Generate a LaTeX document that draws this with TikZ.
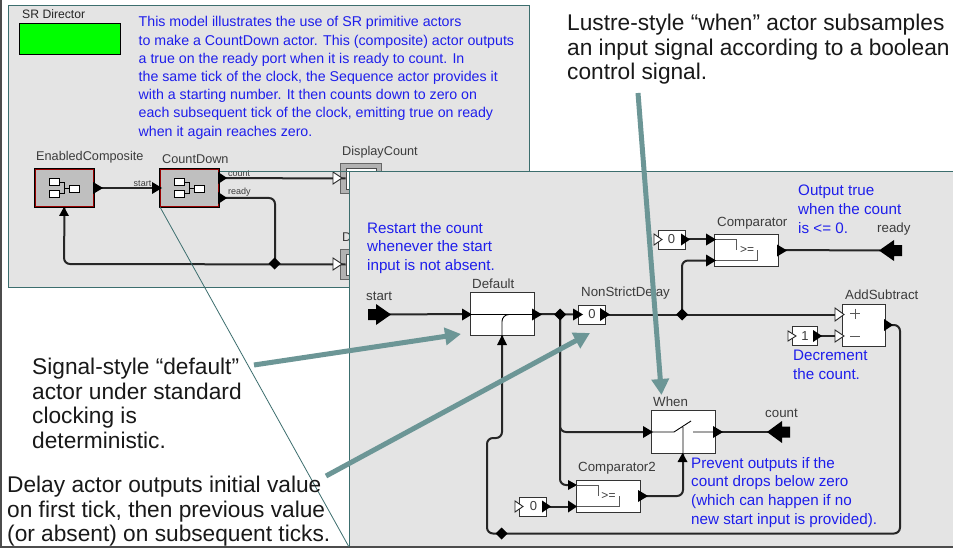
\documentclass[tikz,border=0pt]{standalone}
\usepackage{fontspec}
\setmainfont{Liberation Sans}
\usetikzlibrary{arrows.meta}
\definecolor{panel}{RGB}{228,228,228}
\definecolor{frameg}{RGB}{60,110,110}
\definecolor{bluet}{RGB}{30,30,235}
\definecolor{grayt}{RGB}{60,60,60}
\definecolor{callout}{RGB}{108,150,150}
\tikzset{
 wire/.style={line width=2pt,black!85,rounded corners=6pt},
 block/.style={draw=black!80,fill=white,line width=.9pt,inner sep=0pt},
 note/.style={text=bluet,font=\fontsize{15.2}{18.7}\selectfont,align=left,anchor=north west,inner sep=0pt},
 lbl/.style={text=grayt,font=\fontsize{13.3}{15}\selectfont,inner sep=0pt},
 big/.style={text=black!90,font=\fontsize{22.7}{24.5}\selectfont,align=left,anchor=north west,inner sep=0pt},
 callarr/.style={line width=5pt,callout,-{Triangle[length=16pt,width=17pt]}},
 fout/.style={fill=white,draw=black!85,line width=.9pt},
 sm/.style={text=grayt,font=\fontsize{9}{10}\selectfont,inner sep=0pt},
 val/.style={text=grayt,font=\fontsize{13}{13}\selectfont,inner sep=0pt},
 cmpsym/.style={text=grayt,font=\fontsize{12}{12}\selectfont,inner sep=0pt},
 actor/.style={draw=black,fill=black!25,minimum width=60pt,minimum height=39pt,line width=1pt,inner sep=0pt},
 disp/.style={draw=black!70,fill=white,minimum width=30pt,minimum height=21pt,inner sep=0pt,line width=.8pt}
}
\newcommand{\jn}[2]{\path[fill=black] (#1-6,#2) -- (#1,#2-6) -- (#1+6,#2) -- (#1,#2+6) -- cycle;}
\newcommand{\compicon}[2]{%
 \draw[black,line width=.7pt,fill=white] (#1-9,#2-10) rectangle ++(10,7);
 \draw[black,line width=.7pt,fill=white] (#1-9,#2+2) rectangle ++(10,7);
 \draw[black,line width=.7pt,fill=white] (#1+11,#2-3) rectangle ++(10,7);
 \draw[black,line width=.5pt] (#1+1,#2-6) -| (#1+6,#2+5) -- (#1+1,#2+5) (#1+6,#2) -- (#1+11,#2);}
\newcommand{\port}[3]{\path[fill=black] (#1,#2-6) -- (#1+#3,#2) -- (#1,#2+6) -- cycle;}
\begin{document}
\begin{tikzpicture}[x=1pt,y=-1pt]
\useasboundingbox (0,0) rectangle (953,548);
\fill[white] (0,0) rectangle (953,548);
\draw[black!70,line width=1.6pt] (0.8,0) -- (0.8,547) -- (953,547);
% upper panel
\draw[frameg,fill=panel,line width=.8pt] (8.5,5) rectangle (529.5,287.5);
\node[lbl,anchor=west,font=\fontsize{12.2}{13}\selectfont,text=black!85] (srd) at (22,14) {SR Director};
\draw[black,fill=green,line width=.8pt] (19.5,23.5) rectangle (120,54);
\node[note,font=\fontsize{14.2}{18.2}\selectfont] (desc) at (138.5,16.5) {This model illustrates the use of SR primitive actors\\to make a CountDown actor. This (composite) actor outputs\\a true on the ready port when it is ready to count. In\\the same tick of the clock, the Sequence actor provides it\\with a starting number. It then counts down to zero on\\each subsequent tick of the clock, emitting true on ready\\when it again reaches zero.};
% upper actors
\node[lbl,anchor=west,font=\fontsize{12.7}{14}\selectfont] (lec) at (36,157) {EnabledComposite};
\node[lbl,anchor=west,font=\fontsize{12.7}{14}\selectfont] (lcd) at (162,159) {CountDown};
\node[lbl,anchor=west,font=\fontsize{12.7}{14}\selectfont] (ldc) at (342,152) {DisplayCount};
\node[lbl,anchor=west,font=\fontsize{12.7}{14}\selectfont] (ldr) at (342,237) {D};
\draw[fill=black!30,draw=black!60,line width=.8pt] (340.5,163) rectangle (381,193);
\draw[fill=black!30,draw=black!60,line width=.8pt] (340.5,249) rectangle (381,279);
\node[disp] (d1) at (361,178.5) {};
\node[disp] (d2) at (361,264.5) {};
\node[actor] (ec) at (64.5,188) {};
\node[actor] (cd) at (189.5,188) {};
\draw[red!60!black,line width=1.6pt] ([shift={(1.5,1.5)}]ec.north west) rectangle ([shift={(-1.5,-1.5)}]ec.south east);
\draw[red!60!black,line width=1.6pt] ([shift={(1.5,1.5)}]cd.north west) rectangle ([shift={(-1.5,-1.5)}]cd.south east);
\compicon{58}{188}
\compicon{183}{188}
\draw[wire] (ec.east) -- (cd.west);
\draw[wire] (219,178) -- (d1.west);
\draw[wire] (219,198) -- (275,198) -- (275,264);
\draw[wire] (ec.south) -- (64,264) -- (d2.west);
\port{93}{188}{10}\port{152}{188}{10}\port{218}{178}{9}\port{218}{198}{9}
\path[fill=black] (59,216) -- (64,207) -- (69,216) -- cycle;
\jn{274.5}{263.5}
\path[fout] (333,172) -- (342,178) -- (333,184) -- cycle;
\path[fout] (333,258) -- (342,264) -- (333,270) -- cycle;
\node[sm] (ls) at (142.5,184) {start};
\node[sm,anchor=west] (lc) at (228,174) {count};
\node[sm,anchor=west] (lr) at (228,192) {ready};
% lower panel
\draw[frameg,line width=.8pt] (160,207) -- (349,547);
\draw[frameg,line width=.8pt] (220,171.5) -- (349,171.5);
\draw[frameg,fill=panel,line width=.8pt] (349.5,171.5) rectangle (955,547);
\draw[black!70,line width=1.6pt] (349,547) -- (953,547);
% notes
\node[note] (n1) at (367,222) {Restart the count\\whenever the start\\input is not absent.};
\node[note] (n2) at (798,185) {Output true\\when the count\\is <= 0.};
\node[note] (n3) at (793,350) {Decrement\\the count.};
\node[note] (n4) at (691,457) {Prevent outputs if the\\count drops below zero\\(which can happen if no\\new start input is provided).};
% blocks
\node[lbl,anchor=west] (lb1) at (366,296) {start};
\node[block,minimum width=64pt,minimum height=43pt] (def) at (502,314) {};
\node[lbl,anchor=west] (lb2) at (472,284) {Default};
\node[block,minimum width=27pt,minimum height=19pt] (nsd) at (591.5,314.5) {};
\node[lbl,anchor=west] (lb3) at (581,293) {NonStrictDelay};
\node[block,minimum width=27pt,minimum height=19pt] (c0) at (671.5,239.5) {};
\node[block,minimum width=64pt,minimum height=32pt] (cmp) at (746.5,250) {};
\node[lbl,anchor=west] (lb4) at (717,223) {Comparator};
\node[block,minimum width=43pt,minimum height=42pt] (add) at (863.5,325) {};
\node[lbl,anchor=west] (lb5) at (845,295) {AddSubtract};
\node[block,minimum width=25pt,minimum height=19pt] (c1) at (804.5,336) {};
\node[block,minimum width=64pt,minimum height=43pt] (when) at (683,432) {};
\node[lbl,anchor=west] (lb6) at (653,402) {When};
\node[block,minimum width=64pt,minimum height=32pt] (cmp2) at (608,496) {};
\node[lbl,anchor=west] (lb7) at (578,468) {Comparator2};
\node[block,minimum width=27pt,minimum height=19pt] (c2) at (533,506.5) {};
\node[lbl,anchor=west] (lb8) at (765,413) {count};
\node[lbl,anchor=west] (lb9) at (877,229) {ready};
\coordinate (jA) at (560,314.5);
\coordinate (jB) at (682,314.5);
\coordinate (inS) at (385,314.5);
\coordinate (outR) at (880,250.5);
\coordinate (outC) at (768,432);
% wires
\draw[wire] (inS) -- (def.west);
\draw[wire] (def.east) -- (nsd.west);
\draw[wire] (nsd.east) -- (843,314.5);
\draw[wire] (jB) |- (714,260.5);
\draw[wire] (c0.east) -- (714,239.5);
\draw[wire] (cmp.east) -- (outR);
\draw[wire] (c1.east) -- (843,336);
\draw[wire] (jA) |- (when.west);
\draw[wire] (jA) |- (575,485);
\draw[wire] (c2.east) -- (575,506.5);
\draw[wire] (cmp2.east) -| (when.south);
\draw[wire] (when.east) -- (outC);
\draw[wire] (885,325) -- (900,325) -- (900,533.5) -- (487,533.5) -- (487,438) -- (502,438) -- (def.south);
\jn{560}{314.5}\jn{682}{314.5}\jn{501.5}{533.5}
% internal lines
\draw[black,line width=.9pt] (470,314.5) -- (534,314.5);
\draw[black,line width=.9pt,rounded corners=7pt] (502,336) -- (502,314.5) -- (512,314.5);
\draw[black,line width=.9pt] (651,432) -- (674,432) -- (691,421) (693,432) -- (715,432) (683,427) -- (683,453);
\draw[black!65,line width=.7pt] (715,239.5) -- (736,239.5) -- (736,250) (757,250) -- (757,260.5) -- (715,260.5);
\node[cmpsym] at (747,250.5) {>=};
\draw[black!65,line width=.7pt] (576,485) -- (598,485) -- (598,496) (619,496) -- (619,506) -- (576,506);
\node[cmpsym] at (608.5,496) {>=};
\draw[black!65,line width=1pt] (850,313.5) -- (860,313.5) (855,308.5) -- (855,318.5) (850,336) -- (860,336);
\node[val] at (592,314.5) {0};
\node[val] at (671.5,239.5) {0};
\node[val] at (805,336) {1};
\node[val] at (533.5,506.5) {0};
% ports
\port{462}{314.5}{10}\port{532}{314.5}{10}\port{573}{314.5}{10}
\path[fill=black] (600,308) -- (610,314.5) -- (600,321) -- cycle;
\path[fill=black] (497,345) -- (502,335) -- (507,345) -- cycle;
\path[fill=black] (681,233.5) -- (690,239.5) -- (681,245.5) -- cycle;
\port{706}{239.5}{10}\port{706}{260.5}{10}\port{777}{250.5}{10}
\path[fill=black] (813,330) -- (822,336) -- (813,342) -- cycle;
\path[fout] (835,308) -- (844,314.5) -- (835,321) -- cycle;
\path[fout] (835,330) -- (844,336) -- (835,342) -- cycle;
\path[fout] (788,331) -- (796,336) -- (788,341) -- cycle;
\path[fout] (654,234) -- (662,239.5) -- (654,245) -- cycle;
\path[fout] (515,501) -- (523,506.5) -- (515,512) -- cycle;
\port{884}{325}{9}
\port{643}{432}{10}\port{713}{432}{10}
\path[fill=black] (677.5,462) -- (682.5,453) -- (687.5,462) -- cycle;
\path[fill=black] (568,480) -- (577,485) -- (568,490) -- cycle;
\port{568}{506.5}{9}\port{638}{496}{10}
\path[fill=black] (542,500.5) -- (551,506.5) -- (542,512.5) -- cycle;
% I/O ports
\path[fill=black] (368,309) -- (376,309) -- (376,304) -- (391,314.5) -- (376,325) -- (376,320) -- (368,320) -- cycle;
\path[fill=black] (902,245) -- (894,245) -- (894,240) -- (879,250.5) -- (894,261) -- (894,256) -- (902,256) -- cycle;
\path[fill=black] (790,426.5) -- (782,426.5) -- (782,421) -- (767,432) -- (782,443) -- (782,437.5) -- (790,437.5) -- cycle;
% big text
\node[big] (t1) at (567,14) {Lustre-style “when” actor subsamples\\an input signal according to a boolean\\control signal.};
\node[big] (t2) at (32,358) {Signal-style “default”\\actor under standard\\clocking is\\deterministic.};
\node[big] (t3) at (7,476) {Delay actor outputs initial value\\on first tick, then previous value\\(or absent) on subsequent ticks.};
% callouts
\coordinate (a1s) at (254,365);\coordinate (a1e) at (461,334);
\coordinate (a2s) at (326,476);\coordinate (a2e) at (590,333);
\coordinate (a3s) at (638,93);\coordinate (a3e) at (661.5,395);
\draw[callarr] (a1s) -- (a1e);
\draw[callarr] (a2s) -- (a2e);
\draw[callarr] (a3s) -- (a3e);
\end{tikzpicture}
\end{document}
